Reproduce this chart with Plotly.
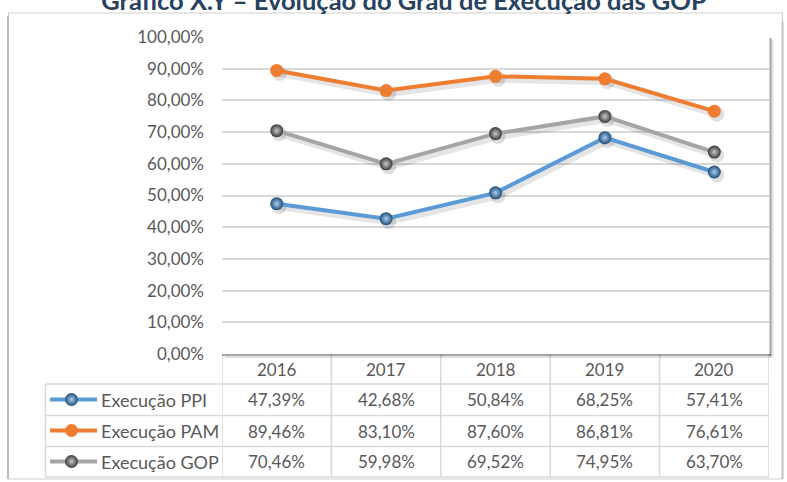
import plotly.graph_objects as go

# ---------------- data ----------------
years = ["2016", "2017", "2018", "2019", "2020"]
series_names = ["Execução PPI", "Execução PAM", "Execução GOP"]
ppi = [47.39, 42.68, 50.84, 68.25, 57.41]
pam = [89.46, 83.10, 87.60, 86.81, 76.61]
gop = [70.46, 59.98, 69.52, 74.95, 63.70]
y_ticks = [0, 10, 20, 30, 40, 50, 60, 70, 80, 90, 100]
y_tick_labels = ["0,00%", "10,00%", "20,00%", "30,00%", "40,00%", "50,00%",
                 "60,00%", "70,00%", "80,00%", "90,00%", "100,00%"]
title_text = "Gráfico X.Y – Evolução do Grau de Execução das GOP"

# ---------------- style ----------------
W, H = 787, 482
def px(x): return x / W
def py(y): return 1 - y / H

FONT = "Lato"
TXT = "#595959"
GRID = "#D9D9D9"
colors = ["#5B9BD5", "#ED7D31", "#A5A5A5"]
marker_edge = ["#1F4E79", "#ED7D31", "#3A3A3A"]
marker_center = ["#A9CCEE", "#ED7D31", "#C8C8C8"]

PLOT_L, PLOT_R, PLOT_T, PLOT_B = 222, 769, 37, 354
ROW_Y = [384, 415.5, 446.5, 477]
TABLE_L = 45.5
x_dom = [px(PLOT_L), px(PLOT_R)]
y_dom = [py(PLOT_B), py(PLOT_T)]
col_w = (PLOT_R - PLOT_L) / len(years)
dx = 2.5 / col_w                     # shadow offset (x units)
dy = 3.0 / ((PLOT_B - PLOT_T) / 100)  # shadow offset (y units)

values = [ppi, pam, gop]
xs = list(range(len(years)))

fig = go.Figure()

# drop shadows (on shifted base axes)
for v in values:
    fig.add_trace(go.Scatter(
        x=xs, y=v, mode="lines+markers", xaxis="x", yaxis="y",
        line=dict(color="rgba(0,0,0,0.10)", width=7),
        marker=dict(size=15, color="rgba(0,0,0,0.12)"),
        hoverinfo="skip", showlegend=False))

# main series
for name, v, c, me, mc in zip(series_names, values, colors, marker_edge, marker_center):
    fig.add_trace(go.Scatter(
        x=xs, y=v, mode="lines+markers", name=name, xaxis="x2", yaxis="y2",
        line=dict(color=c, width=4),
        marker=dict(size=13, color=me if me != c else c,
                    gradient=dict(type="radial", color=mc) if me != c else None,
                    line=dict(width=0)),
        showlegend=False))

# legend keys inside the table (own small axes)
for name, c, me, mc in zip(series_names, colors, marker_edge, marker_center):
    fig.add_trace(go.Scatter(
        x=[50, 97], y=[name, name], mode="lines", xaxis="x3", yaxis="y3",
        line=dict(color=c, width=4), hoverinfo="skip", showlegend=False))
    fig.add_trace(go.Scatter(
        x=[71.5], y=[name], mode="markers", xaxis="x3", yaxis="y3",
        marker=dict(size=13, color=me if me != c else c,
                    gradient=dict(type="radial", color=mc) if me != c else None),
        hoverinfo="skip", showlegend=False))

shapes = []
# outer frame
shapes.append(dict(type="rect", xref="paper", yref="paper", x0=px(8.5), x1=px(782.5),
                   y0=py(479), y1=py(13), line=dict(color="#D0D0D0", width=1.2), layer="below"))
shapes.append(dict(type="line", xref="paper", yref="paper", x0=px(8), x1=px(8),
                   y0=py(479), y1=py(16), line=dict(color="#BDBDBD", width=2), layer="below"))
shapes.append(dict(type="line", xref="paper", yref="paper", x0=px(782.5), x1=px(782.5),
                   y0=py(479), y1=py(22), line=dict(color="#C4C4C4", width=2), layer="below"))
# table horizontal lines
for ry in ROW_Y:
    shapes.append(dict(type="line", xref="paper", yref="paper", x0=px(TABLE_L), x1=px(PLOT_R),
                       y0=py(ry), y1=py(ry), line=dict(color=GRID, width=1.5), layer="below"))
# table vertical lines
shapes.append(dict(type="line", xref="paper", yref="paper", x0=px(TABLE_L), x1=px(TABLE_L),
                   y0=py(ROW_Y[0]), y1=py(ROW_Y[-1]), line=dict(color=GRID, width=1.5), layer="below"))
for i in range(len(years) + 1):
    shapes.append(dict(type="line", xref="x2", yref="paper", x0=i - 0.5, x1=i - 0.5,
                       y0=py(PLOT_B), y1=py(ROW_Y[-1]), line=dict(color=GRID, width=1.5), layer="below"))
# plot-area shadow (right and bottom)
shapes.append(dict(type="line", xref="paper", yref="paper", x0=px(770.5), x1=px(770.5),
                   y0=py(356), y1=py(38), line=dict(color="rgba(0,0,0,0.35)", width=2), layer="above"))
shapes.append(dict(type="line", xref="paper", yref="paper", x0=px(772.5), x1=px(772.5),
                   y0=py(357), y1=py(40), line=dict(color="rgba(0,0,0,0.12)", width=2), layer="above"))
shapes.append(dict(type="line", xref="paper", yref="paper", x0=px(PLOT_L), x1=px(771),
                   y0=py(355), y1=py(355), line=dict(color="rgba(0,0,0,0.35)", width=2), layer="above"))
shapes.append(dict(type="line", xref="paper", yref="paper", x0=px(PLOT_L + 3), x1=px(772),
                   y0=py(357), y1=py(357), line=dict(color="rgba(0,0,0,0.12)", width=2), layer="above"))

annotations = []
# year header
hdr_y = (PLOT_B + ROW_Y[0]) / 2
for i, yr in enumerate(years):
    annotations.append(dict(text=yr, xref="x2", yref="paper", x=i, y=py(hdr_y),
                            xanchor="center", yanchor="middle", showarrow=False,
                            font=dict(family=FONT, size=17, color=TXT)))
# rows
for r, (name, v) in enumerate(zip(series_names, values)):
    cy = (ROW_Y[r] + ROW_Y[r + 1]) / 2
    annotations.append(dict(text=name, xref="paper", yref="paper", x=px(99), y=py(cy),
                            xanchor="left", yanchor="middle", showarrow=False,
                            font=dict(family=FONT, size=18, color=TXT)))
    for i, val in enumerate(v):
        annotations.append(dict(text=f"{val:.2f}".replace(".", ",") + "%", xref="x2", yref="paper",
                                x=i, y=py(cy), xanchor="center", yanchor="middle", showarrow=False,
                                font=dict(family=FONT, size=17, color=TXT)))

fig.update_layout(
    width=W, height=H,
    margin=dict(l=0, r=0, t=0, b=0, autoexpand=False),
    paper_bgcolor="white", plot_bgcolor="rgba(0,0,0,0)",
    font=dict(family=FONT, color=TXT),
    title=dict(text=title_text, xref="paper", yref="container", x=px(404), y=1 - 1.2 / H,
               xanchor="center", yanchor="middle", automargin=False,
               font=dict(family=FONT, size=25.5, color="#27425F", weight="bold")),
    xaxis=dict(domain=x_dom, range=[-0.5 - dx, len(years) - 0.5 - dx], visible=False,
               fixedrange=True, automargin=False),
    yaxis=dict(domain=y_dom, range=[0 + dy, 100 + dy], visible=False, fixedrange=True, automargin=False),
    xaxis2=dict(domain=x_dom, range=[-0.5, len(years) - 0.5], overlaying="x", anchor="y2",
                showgrid=False, zeroline=False, showticklabels=False, showline=False, automargin=False),
    yaxis2=dict(domain=y_dom, range=[0, 100], overlaying="y", anchor="x2", side="left",
                tickvals=y_ticks, ticktext=y_tick_labels, showgrid=True, gridcolor=GRID, gridwidth=1.5,
                zeroline=False, showline=False, ticks="", ticklabelstandoff=17, automargin=False,
                tickfont=dict(family=FONT, size=17, color=TXT)),
    xaxis3=dict(domain=[px(TABLE_L), px(PLOT_L)], range=[TABLE_L, PLOT_L], visible=False,
                anchor="y3", automargin=False),
    yaxis3=dict(domain=[py(ROW_Y[-1]), py(ROW_Y[0])], type="category", categoryorder="array",
                categoryarray=series_names, range=[len(series_names) - 0.5, -0.5], visible=False,
                anchor="x3", automargin=False),
    shapes=shapes, annotations=annotations,
    showlegend=False,
)

fig.write_html("out.html", config={"displayModeBar": False},
               post_script="document.body.style.margin='0';")
